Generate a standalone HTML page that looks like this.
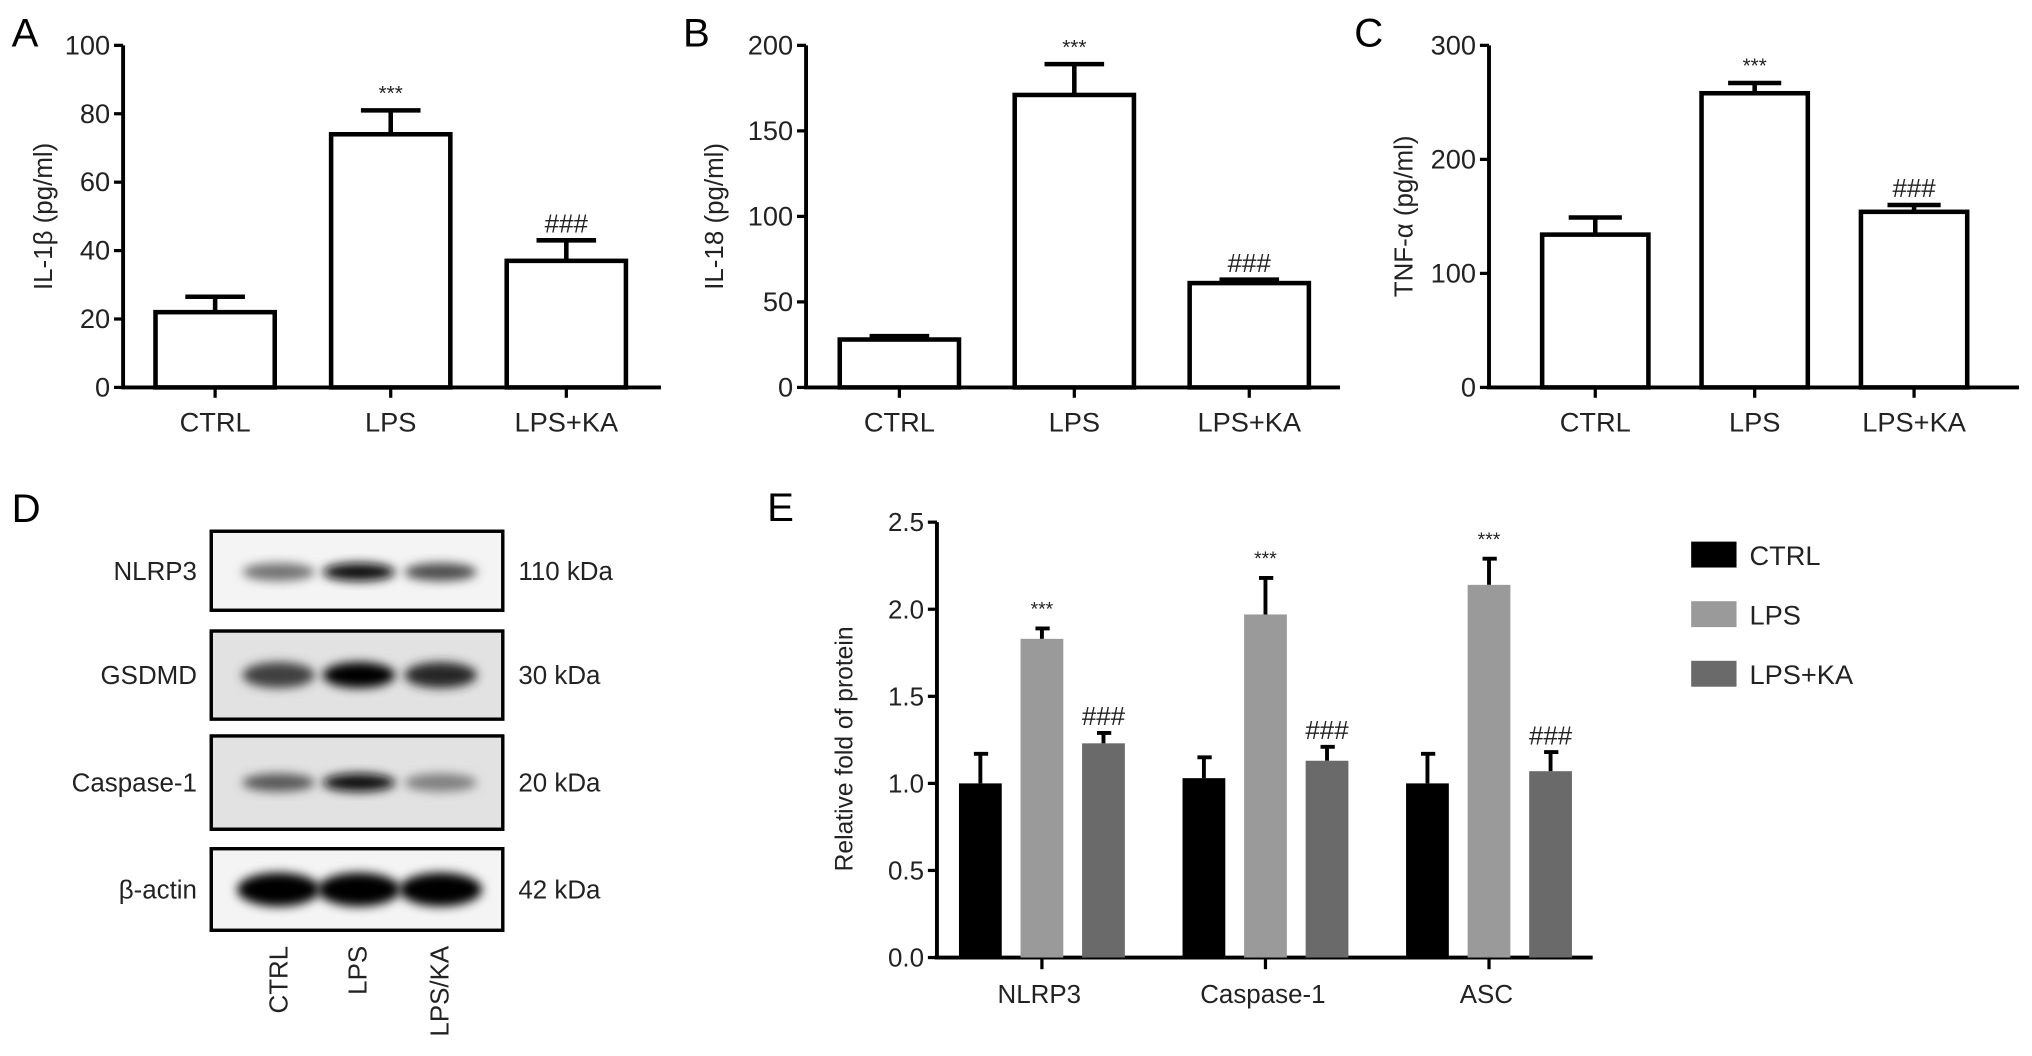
<!DOCTYPE html>
<html><head><meta charset="utf-8"><style>
html,body{margin:0;padding:0;background:#fff}
svg{display:block;font-family:"Liberation Sans",sans-serif}
</style></head><body>
<svg id="fig" width="2032" height="1056" viewBox="0 0 1568 815" preserveAspectRatio="none" xmlns="http://www.w3.org/2000/svg">
<defs><filter id="blur" x="-20%" y="-50%" width="140%" height="200%"><feGaussianBlur stdDeviation="4"/></filter></defs>
<g id="gA"></g>
<g id="gB"></g>
<g id="gC"></g>
<g id="gD"></g>
<g id="gE"></g>
</svg>
<script>
const groups=["CTRL","LPS","LPS+KA"];
const aValues=[22,74,37];
const aErr=[26.5,81,43];
const aTicks=[0,20,40,60,80,100];
const bValues=[28,171,61];
const bErr=[30,189,63];
const bTicks=[0,50,100,150,200];
const cValues=[134,258,154];
const cErr=[149,267,160];
const cTicks=[0,100,200,300];
const sigLabels=["","***","###"];
const eCategories=["NLRP3","Caspase-1","ASC"];
const eSeries=["CTRL","LPS","LPS+KA"];
const eCtrl=[1.0,1.03,1.0];
const eCtrlErr=[1.17,1.15,1.17];
const eLps=[1.83,1.97,2.14];
const eLpsErr=[1.89,2.18,2.29];
const eKa=[1.23,1.13,1.07];
const eKaErr=[1.29,1.21,1.18];
const eTicks=[0,0.5,1.0,1.5,2.0,2.5];
const eTickLabels=["0.0","0.5","1.0","1.5","2.0","2.5"];
const blotProteins=["NLRP3","GSDMD","Caspase-1","β-actin"];
const blotKda=["110 kDa","30 kDa","20 kDa","42 kDa"];
const blotIntensity=[[0.55,0.95,0.7],[0.75,1.0,0.85],[0.65,0.95,0.5],[1.0,1.0,1.0]];
const blotLanes=["CTRL","LPS","LPS/KA"];

const NS="http://www.w3.org/2000/svg";
function mk(parent,tag,attrs,txt){const e=document.createElementNS(NS,tag);for(const k in attrs)e.setAttribute(k,attrs[k]);if(txt!==undefined)e.textContent=txt;parent.appendChild(e);return e;}

function barPanel(g,letter,ylabel,vals,errs,ticks,max,o){
  const y=v=>o.bottom-(v/max)*(o.bottom-o.top);
  let t=mk(g,'text',{x:o.lx,y:36,'font-size':31},letter);
  
  
  let yl=mk(g,'text',{transform:`translate(${o.ylx},167) rotate(-90)`,'text-anchor':'middle','font-size':20,fill:'#222'},ylabel);
  
  
  let ax=mk(g,'path',{d:`M${o.ax},${o.top}V${o.bottom}M${o.ax-1.5},${o.bottom}H${o.axEnd}`,stroke:'#000','stroke-width':3,fill:'none'});
  
  
  ticks.forEach(v=>{
    let tk=mk(g,'line',{x1:o.ax-7,x2:o.ax,y1:y(v),y2:y(v),stroke:'#000','stroke-width':2.5});
    
    
    let tl=mk(g,'text',{x:o.ax-10,y:y(v)+7,'text-anchor':'end','font-size':21,fill:'#222'},String(v));
    
    
  });
  vals.forEach((v,i)=>{
    const cx=o.x0+i*o.step, w=o.bw;
    let r=mk(g,'rect',{x:cx-w/2,y:y(v),width:w,height:o.bottom-y(v),fill:'#fff',stroke:'#000','stroke-width':3.5});
    
    
    let e=mk(g,'path',{d:`M${cx},${y(v)}V${y(errs[i])}M${cx-w/4},${y(errs[i])}H${cx+w/4}`,stroke:'#000','stroke-width':3.5,fill:'none'});
    
    
    let tk=mk(g,'line',{x1:cx,x2:cx,y1:o.bottom,y2:o.bottom+8,stroke:'#000','stroke-width':2.5});
    
    
    let xl=mk(g,'text',{x:cx,y:o.bottom+34,'text-anchor':'middle','font-size':21,fill:'#222'},groups[i]);
    
    
    if(sigLabels[i]){let s=mk(g,'text',{x:cx,y:y(errs[i])-(i==1?8:6),'text-anchor':'middle','font-size':i==1?16:20,fill:'#222'},sigLabels[i]);
      
      }
  });
}
barPanel(document.getElementById('gA'),'A','IL-1β (pg/ml)',aValues,aErr,aTicks,100,{lx:9,ylx:40,ax:95,top:35,bottom:299,axEnd:510,x0:166,step:135.5,bw:92});
barPanel(document.getElementById('gB'),'B','IL-18 (pg/ml)',bValues,bErr,bTicks,200,{lx:527,ylx:558,ax:622,top:35,bottom:299,axEnd:1034,x0:694,step:135,bw:92});
barPanel(document.getElementById('gC'),'C','TNF-α (pg/ml)',cValues,cErr,cTicks,300,{lx:1045,ylx:1090,ax:1149,top:35,bottom:299,axEnd:1558,x0:1231,step:123,bw:82});

// Panel D
(function(){
  const g=document.getElementById('gD');
  let t=mk(g,'text',{x:9,y:403,'font-size':31},'D');
  
  
  const boxes=[[410,471],[487,555],[568,640],[655,718]];
  const laneX=[215,277,340];
  blotProteins.forEach((p,i)=>{
    const [y0,y1]=boxes[i], cy=(y0+y1)/2;
    let bg=mk(g,'rect',{x:163,y:y0,width:225,height:y1-y0,fill:i==0||i==3?'#f4f4f4':'#e2e2e2',stroke:'#000','stroke-width':2.5});
    
    
    blotIntensity[i].forEach((v,j)=>{
      const c=Math.round(255*(1-v));
      let b=mk(g,'ellipse',{cx:laneX[j],cy:cy+(i==0?1:0),rx:i==3?32:28,ry:i==3?13:(i==1?10:7),fill:`rgb(${c},${c},${c})`,filter:'url(#blur)'});
      
      
    });
    mk(g,'rect',{x:163,y:y0,width:225,height:y1-y0,fill:'none',stroke:'#000','stroke-width':2.5});
    let l=mk(g,'text',{x:152,y:cy+7,'text-anchor':'end','font-size':20,fill:'#222'},p);
    
    
    let k=mk(g,'text',{x:400,y:cy+7,'font-size':20,fill:'#222'},blotKda[i]);
    
    
  });
  blotLanes.forEach((n,j)=>{
    let l=mk(g,'text',{transform:`translate(${[222,283,346][j]},730) rotate(-90)`,'text-anchor':'end','font-size':20,fill:'#222'},n);
    
    
  });
})();

// Panel E
(function(){
  const g=document.getElementById('gE');
  const top=403,bottom=739,ax=723,max=2.5;
  const y=v=>bottom-(v/max)*(bottom-top);
  let t=mk(g,'text',{x:592,y:402,'font-size':31},'E');
  
  
  let yl=mk(g,'text',{transform:`translate(658,578) rotate(-90)`,'text-anchor':'middle','font-size':19,fill:'#222'},'Relative fold of protein');
  
  
  let axes=mk(g,'path',{d:`M${ax},${top}V${bottom}M${ax-2},${bottom}H1229`,stroke:'#000','stroke-width':3,fill:'none'});
  
  
  eTicks.forEach((v,i)=>{
    let tk=mk(g,'line',{x1:ax-7,x2:ax,y1:y(v),y2:y(v),stroke:'#000','stroke-width':2.5});
    
    
    let tl=mk(g,'text',{x:ax-10,y:y(v)+7,'text-anchor':'end','font-size':20,fill:'#222'},eTickLabels[i]);
    
    
  });
  const series=[[eCtrl,eCtrlErr,'#000'],[eLps,eLpsErr,'#9a9a9a'],[eKa,eKaErr,'#6a6a6a']];
  const sig=["","***","###"];
  eCategories.forEach((c,i)=>{
    const gc=804+i*172.5;
    series.forEach(([vals,errs,col],s)=>{
      const cx=gc+(s-1)*47.5, w=33;
      let e=mk(g,'path',{d:`M${cx},${y(vals[i])}V${y(errs[i])}M${cx-5},${y(errs[i])}H${cx+6}`,stroke:'#000','stroke-width':3,fill:'none'});
      
      
      let r=mk(g,'rect',{x:cx-w/2,y:y(vals[i]),width:w,height:bottom-y(vals[i]),fill:col});
      
      
      if(sig[s]){let st=mk(g,'text',{x:cx,y:y(errs[i])-(s==1?10:6),'text-anchor':'middle','font-size':s==1?15:20,fill:'#222'},sig[s]);
        
        }
    });
    let tk=mk(g,'line',{x1:gc,x2:gc,y1:bottom,y2:bottom+9,stroke:'#000','stroke-width':2.5});
    
    
    let xl=mk(g,'text',{x:gc-2,y:bottom+35,'text-anchor':'middle','font-size':20,fill:'#222'},c);
    
    
  });
  series.forEach(([v,e,col],s)=>{
    const ly=418+s*46;
    let sw=mk(g,'rect',{x:1305,y:ly,width:35,height:20,fill:col});
    
    
    let lt=mk(g,'text',{x:1350,y:ly+18,'font-size':21,fill:'#222'},eSeries[s]);
    
    
  });
})();
</script>
</body></html>
